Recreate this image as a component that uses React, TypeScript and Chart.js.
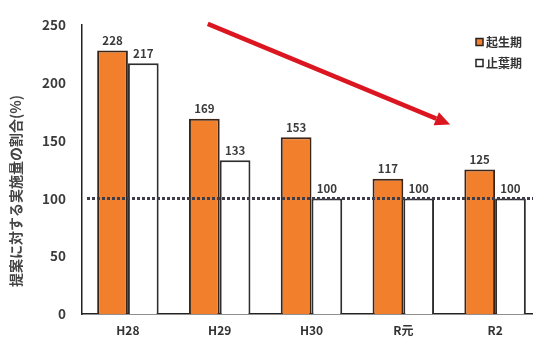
import React, { useEffect, useRef } from "react";
import { Chart, registerables } from "chart.js";

Chart.register(...registerables);

const categories = ["H28", "H29", "H30", "R元", "R2"];
const seriesNames = ["起生期", "止葉期"];
const kiseiki = [228, 169, 153, 117, 125];
const shiyoki = [217, 133, 100, 100, 100];
const yTicks = [0, 50, 100, 150, 200, 250];
const referenceLine = 100;
const yTitle = "提案に対する実施量の割合(%)";
// trend arrow, in (category index, value) units
const arrowFrom = [0.87, 251];
const arrowTo = [3.51, 164];

const FONT = "'Noto Sans CJK JP', 'Noto Sans', sans-serif";

const overlayPlugin = {
  id: "overlay",
  afterDatasetsDraw(chart: any) {
    const ctx = chart.ctx;
    const xs = chart.scales.x;
    const ys = chart.scales.y;
    const area = chart.chartArea;
    ctx.save();
    // data labels
    ctx.font = `bold 11.5px ${FONT}`;
    ctx.fillStyle = "#3a3a3a";
    ctx.textAlign = "center";
    ctx.textBaseline = "bottom";
    chart.data.datasets.forEach((ds: any, di: number) => {
      const meta = chart.getDatasetMeta(di);
      meta.data.forEach((bar: any, i: number) => {
        ctx.fillText(String(ds.data[i]), bar.x, bar.y - 4);
      });
    });
    // reference dotted line
    const yRef = ys.getPixelForValue(referenceLine);
    ctx.strokeStyle = "#3d3d4a";
    ctx.lineWidth = 3;
    ctx.setLineDash([3, 2]);
    ctx.beginPath();
    ctx.moveTo(area.left + 5, yRef);
    ctx.lineTo(area.right, yRef);
    ctx.stroke();
    ctx.setLineDash([]);
    // arrow
    const x1 = xs.getPixelForValue(arrowFrom[0]);
    const y1 = ys.getPixelForValue(arrowFrom[1]);
    const x2 = xs.getPixelForValue(arrowTo[0]);
    const y2 = ys.getPixelForValue(arrowTo[1]);
    const ang = Math.atan2(y2 - y1, x2 - x1);
    const headLen = 15;
    const headW = 7;
    const bx = x2 - headLen * Math.cos(ang);
    const by = y2 - headLen * Math.sin(ang);
    ctx.strokeStyle = "#dc1620";
    ctx.fillStyle = "#dc1620";
    ctx.lineWidth = 4.5;
    ctx.beginPath();
    ctx.moveTo(x1, y1);
    ctx.lineTo(bx, by);
    ctx.stroke();
    ctx.beginPath();
    ctx.moveTo(x2, y2);
    ctx.lineTo(bx + headW * Math.sin(ang), by - headW * Math.cos(ang));
    ctx.lineTo(bx - headW * Math.sin(ang), by + headW * Math.cos(ang));
    ctx.closePath();
    ctx.fill();
    // legend
    ctx.font = `bold 12px ${FONT}`;
    ctx.textAlign = "left";
    ctx.textBaseline = "middle";
    chart.data.datasets.forEach((ds: any, di: number) => {
      const ly = 42 + di * 21;
      const lx = 476;
      ctx.fillStyle = ds.backgroundColor;
      ctx.fillRect(lx, ly - 3.5, 7, 7);
      ctx.strokeStyle = "#222";
      ctx.lineWidth = 1.5;
      ctx.strokeRect(lx, ly - 3.5, 7, 7);
      ctx.fillStyle = "#333";
      ctx.fillText(ds.label, lx + 10, ly);
    });
    // y title
    ctx.save();
    ctx.translate(16, 191);
    ctx.rotate(-Math.PI / 2);
    ctx.textAlign = "center";
    ctx.textBaseline = "middle";
    ctx.font = `bold 14px ${FONT}`;
    ctx.fillStyle = "#444";
    ctx.fillText(yTitle, 0, 0);
    ctx.restore();
    ctx.restore();
  },
};

export default function App() {
  const ref = useRef<HTMLCanvasElement>(null);
  useEffect(() => {
    const chart = new Chart(ref.current!, {
      type: "bar",
      data: {
        labels: categories,
        datasets: [
          {
            label: seriesNames[0],
            data: kiseiki,
            backgroundColor: "#f27f2c",
            borderColor: "#3b2418",
            borderWidth: 2,
            borderSkipped: "bottom",
          },
          {
            label: seriesNames[1],
            data: shiyoki,
            backgroundColor: "#ffffff",
            borderColor: "#2e2e2e",
            borderWidth: 2,
            borderSkipped: "bottom",
          },
        ],
      },
      options: {
        responsive: false,
        animation: false,
        devicePixelRatio: 1,
        layout: { padding: { top: 25, right: 19, left: 0, bottom: 0 } },
        datasets: { bar: { barPercentage: 1, categoryPercentage: 0.67 } },
        plugins: { legend: { display: false }, tooltip: { enabled: false } },
        scales: {
          x: {
            grid: { display: false, drawTicks: false },
            border: { display: true, color: "#222", width: 1.5 },
            ticks: { padding: 9, color: "#333", font: { family: FONT, size: 12, weight: "bold" } },
            afterFit(scale: any) {
              scale.height = 28;
            },
          },
          y: {
            min: 0,
            max: 250,
            afterBuildTicks(scale: any) {
              scale.ticks = yTicks.map((v) => ({ value: v }));
            },
            grid: { display: false, drawTicks: false },
            border: { display: true, color: "#222", width: 1.5 },
            ticks: { padding: 16, color: "#3a3a3a", font: { family: FONT, size: 13.5, weight: "bold" } },
            afterFit(scale: any) {
              scale.width = 82;
            },
          },
        },
      },
      plugins: [overlayPlugin],
    } as any);
    return () => chart.destroy();
  }, []);
  return (
    <div style={{ position: "fixed", left: 0, top: 0, width: 533, height: 342, overflow: "hidden", background: "#fff" }}>
      <canvas ref={ref} width={560} height={342} style={{ display: "block" }} />
    </div>
  );
}
